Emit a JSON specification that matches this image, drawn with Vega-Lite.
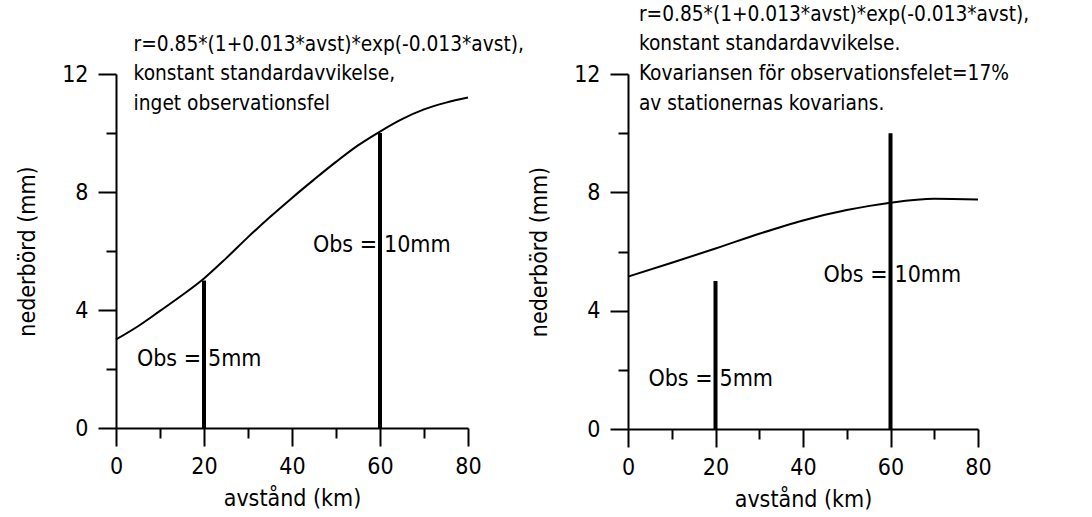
{
  "$schema": "https://vega.github.io/schema/vega-lite/v6.json",
  "padding": {"left": 16, "top": 3, "right": 5, "bottom": 5},
  "bounds": "flush",
  "spacing": 160,
  "config": {
    "view": {"stroke": null},
    "font": "DejaVu Sans Condensed, Liberation Sans, sans-serif",
    "axis": {
      "grid": false,
      "domainColor": "black",
      "domainWidth": 2,
      "tickColor": "black",
      "tickWidth": 2,
      "labelColor": "black",
      "labelFontSize": 23,
      "labelFont": "DejaVu Sans Condensed, Liberation Sans, sans-serif",
      "titleFont": "DejaVu Sans Condensed, Liberation Sans, sans-serif",
      "titleFontSize": 23,
      "titleFontWeight": "normal",
      "titleColor": "black"
    }
  },
  "datasets": {
    "curveL": [
      {"x": 0, "y": 3.0}, {"x": 5, "y": 3.45}, {"x": 10, "y": 3.97}, {"x": 15, "y": 4.5},
      {"x": 20, "y": 5.07}, {"x": 25, "y": 5.75}, {"x": 30, "y": 6.47}, {"x": 35, "y": 7.15},
      {"x": 40, "y": 7.8}, {"x": 45, "y": 8.42}, {"x": 50, "y": 9.02}, {"x": 55, "y": 9.58},
      {"x": 60, "y": 10.05}, {"x": 65, "y": 10.47}, {"x": 70, "y": 10.8}, {"x": 75, "y": 11.03},
      {"x": 80, "y": 11.2}
    ],
    "curveR": [
      {"x": 0, "y": 5.15}, {"x": 10, "y": 5.62}, {"x": 20, "y": 6.1}, {"x": 30, "y": 6.6},
      {"x": 40, "y": 7.05}, {"x": 50, "y": 7.4}, {"x": 60, "y": 7.65}, {"x": 70, "y": 7.78},
      {"x": 80, "y": 7.76}
    ],
    "obs": [
      {"x": 20, "y": 5}, {"x": 60, "y": 10}
    ],
    "textL": [
      {"x": 4, "y": 13.0, "t": "r=0.85*(1+0.013*avst)*exp(-0.013*avst),"},
      {"x": 4, "y": 12.0, "t": "konstant standardavvikelse,"},
      {"x": 4, "y": 11.0, "t": "inget observationsfel"}
    ],
    "textR": [
      {"x": 2.5, "y": 14.0, "t": "r=0.85*(1+0.013*avst)*exp(-0.013*avst),"},
      {"x": 2.5, "y": 13.0, "t": "konstant standardavvikelse."},
      {"x": 2.5, "y": 12.0, "t": "Kovariansen för observationsfelet=17%"},
      {"x": 2.5, "y": 11.0, "t": "av stationernas kovarians."}
    ],
    "labL": [
      {"x": 20, "y": 2.35, "a": "Obs =", "b": "5mm"},
      {"x": 60, "y": 6.2, "a": "Obs =", "b": "10mm"}
    ],
    "labR": [
      {"x": 20, "y": 1.7, "a": "Obs =", "b": "5mm"},
      {"x": 60, "y": 5.2, "a": "Obs =", "b": "10mm"}
    ]
  },
  "hconcat": [
    {
      "width": 352,
      "height": 354,
      "encoding": {
        "x": {"field": "x", "type": "quantitative", "scale": {"domain": [0, 80], "nice": false},
          "axis": {"title": "avstånd (km)", "values": [0, 10, 20, 30, 40, 50, 60, 70, 80],
            "labelExpr": "datum.value % 20 === 0 ? datum.label : ''",
            "tickSize": {"condition": {"test": "datum.value % 20 === 0", "value": 18}, "value": 10},
            "labelPadding": 9, "titlePadding": 9, "labelFlush": false}},
        "y": {"field": "y", "type": "quantitative", "scale": {"domain": [0, 12], "nice": false},
          "axis": {"title": "nederbörd (mm)", "values": [0, 2, 4, 6, 8, 10, 12],
            "labelExpr": "datum.value % 4 === 0 ? datum.label : ''",
            "tickSize": {"condition": {"test": "datum.value % 4 === 0", "value": 18}, "value": 10},
            "labelPadding": 10, "titlePadding": 22, "labelFlush": false}}
      },
      "layer": [
        {"data": {"name": "curveL"}, "mark": {"type": "line", "color": "black", "strokeWidth": 2, "interpolate": "monotone"}},
        {"data": {"name": "obs"}, "mark": {"type": "rule", "color": "black", "strokeWidth": 4},
          "encoding": {"y2": {"datum": 0}}},
        {"data": {"name": "textL"}, "mark": {"type": "text", "align": "left", "baseline": "middle", "fontSize": 20.7, "color": "black"},
          "encoding": {"text": {"field": "t"}}},
        {"data": {"name": "labL"}, "mark": {"type": "text", "align": "right", "baseline": "middle", "fontSize": 23, "color": "black", "dx": -3},
          "encoding": {"text": {"field": "a"}}},
        {"data": {"name": "labL"}, "mark": {"type": "text", "align": "left", "baseline": "middle", "fontSize": 23, "color": "black", "dx": 4},
          "encoding": {"text": {"field": "b"}}}
      ]
    },
    {
      "width": 350,
      "height": 355,
      "encoding": {
        "x": {"field": "x", "type": "quantitative", "scale": {"domain": [0, 80], "nice": false},
          "axis": {"title": "avstånd (km)", "values": [0, 10, 20, 30, 40, 50, 60, 70, 80],
            "labelExpr": "datum.value % 20 === 0 ? datum.label : ''",
            "tickSize": {"condition": {"test": "datum.value % 20 === 0", "value": 18}, "value": 10},
            "labelPadding": 9, "titlePadding": 9, "labelFlush": false}},
        "y": {"field": "y", "type": "quantitative", "scale": {"domain": [0, 12], "nice": false},
          "axis": {"title": "nederbörd (mm)", "values": [0, 2, 4, 6, 8, 10, 12],
            "labelExpr": "datum.value % 4 === 0 ? datum.label : ''",
            "tickSize": {"condition": {"test": "datum.value % 4 === 0", "value": 18}, "value": 10},
            "labelPadding": 10, "titlePadding": 22, "labelFlush": false}}
      },
      "layer": [
        {"data": {"name": "curveR"}, "mark": {"type": "line", "color": "black", "strokeWidth": 2, "interpolate": "monotone"}},
        {"data": {"name": "obs"}, "mark": {"type": "rule", "color": "black", "strokeWidth": 4},
          "encoding": {"y2": {"datum": 0}}},
        {"data": {"name": "textR"}, "mark": {"type": "text", "align": "left", "baseline": "middle", "fontSize": 20.7, "color": "black"},
          "encoding": {"text": {"field": "t"}}},
        {"data": {"name": "labR"}, "mark": {"type": "text", "align": "right", "baseline": "middle", "fontSize": 23, "color": "black", "dx": -3},
          "encoding": {"text": {"field": "a"}}},
        {"data": {"name": "labR"}, "mark": {"type": "text", "align": "left", "baseline": "middle", "fontSize": 23, "color": "black", "dx": 4},
          "encoding": {"text": {"field": "b"}}}
      ]
    }
  ]
}
